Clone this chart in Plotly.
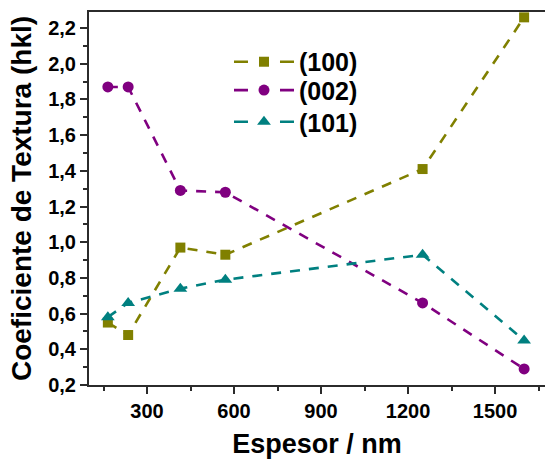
import plotly.graph_objects as go

# Film thickness (nm) and texture coefficients per reflection
espesor = [165, 235, 415, 570, 1250, 1600]
tc_100 = [0.55, 0.48, 0.97, 0.93, 1.41, 2.26]
tc_002 = [1.87, 1.87, 1.29, 1.28, 0.66, 0.29]
tc_101 = [0.58, 0.66, 0.74, 0.79, 0.93, 0.45]

series = [
    ("(100)", tc_100, "#808000", "square", 10),
    ("(002)", tc_002, "#800080", "circle", 11),
    ("(101)", tc_101, "#008080", "triangle-up", 12),
]

FONT = "Arial, Liberation Sans, sans-serif"
LEGEND_FONT = dict(family=FONT, size=25, color="black", weight="bold")

# vertical centre (paper coords) of each legend row
legend_rows = [0.866, 0.790, 0.705]

fig = go.Figure()
for i, (name, vals, color, symbol, msize) in enumerate(series):
    fig.add_trace(go.Scatter(
        x=espesor, y=vals, name=name, mode="lines+markers",
        showlegend=False,
        line=dict(color=color, width=2.6, dash="10px,9px"),
        marker=dict(symbol=symbol, size=msize, color=color),
    ))
    # legend key: dash - marker - dash
    leg_id = "legend" if i == 0 else f"legend{i + 1}"
    fig.add_trace(go.Scatter(
        x=[None], y=[None], name=name, mode="lines+markers",
        legend=leg_id,
        line=dict(color=color, width=2.6, dash="14px,32px"),
        marker=dict(symbol=symbol, size=msize, color=color),
    ))

axis_common = dict(
    showline=True, linecolor="#2b2b2b", linewidth=2,
    ticks="outside", tickcolor="#2b2b2b", tickwidth=1.5, ticklen=7,
    showgrid=False, zeroline=False,
    tickfont=dict(family=FONT, size=20, color="black", weight="bold"),
)

legend_style = dict(
    x=0.307, xanchor="left", yanchor="middle",
    bgcolor="rgba(0,0,0,0)", itemwidth=60, font=LEGEND_FONT,
)

fig.update_layout(
    width=545, height=459,
    margin=dict(l=89, r=0, t=12, b=74),
    plot_bgcolor="white", paper_bgcolor="white",
    separators=",.",
    showlegend=True,
    legend=dict(y=legend_rows[0], **legend_style),
    legend2=dict(y=legend_rows[1], **legend_style),
    legend3=dict(y=legend_rows[2], **legend_style),
    xaxis=dict(
        **axis_common,
        range=[100, 1672], tick0=0, dtick=300, mirror=True,
        minor=dict(ticks="outside", dtick=150, ticklen=4, tickcolor="#2b2b2b", tickwidth=1.5),
        title=dict(text="Espesor / nm", standoff=16,
                   font=dict(family=FONT, size=27, color="black", weight="bold")),
    ),
    yaxis=dict(
        **axis_common,
        range=[0.2, 2.29], tick0=0.2, dtick=0.2, tickformat=".1f",
        minor=dict(ticks="outside", dtick=0.1, ticklen=4, tickcolor="#2b2b2b", tickwidth=1.5),
        title=dict(text="Coeficiente de Textura (hkl)", standoff=8,
                   font=dict(family=FONT, size=28, color="black", weight="bold")),
    ),
)

fig.write_html("out.html")
